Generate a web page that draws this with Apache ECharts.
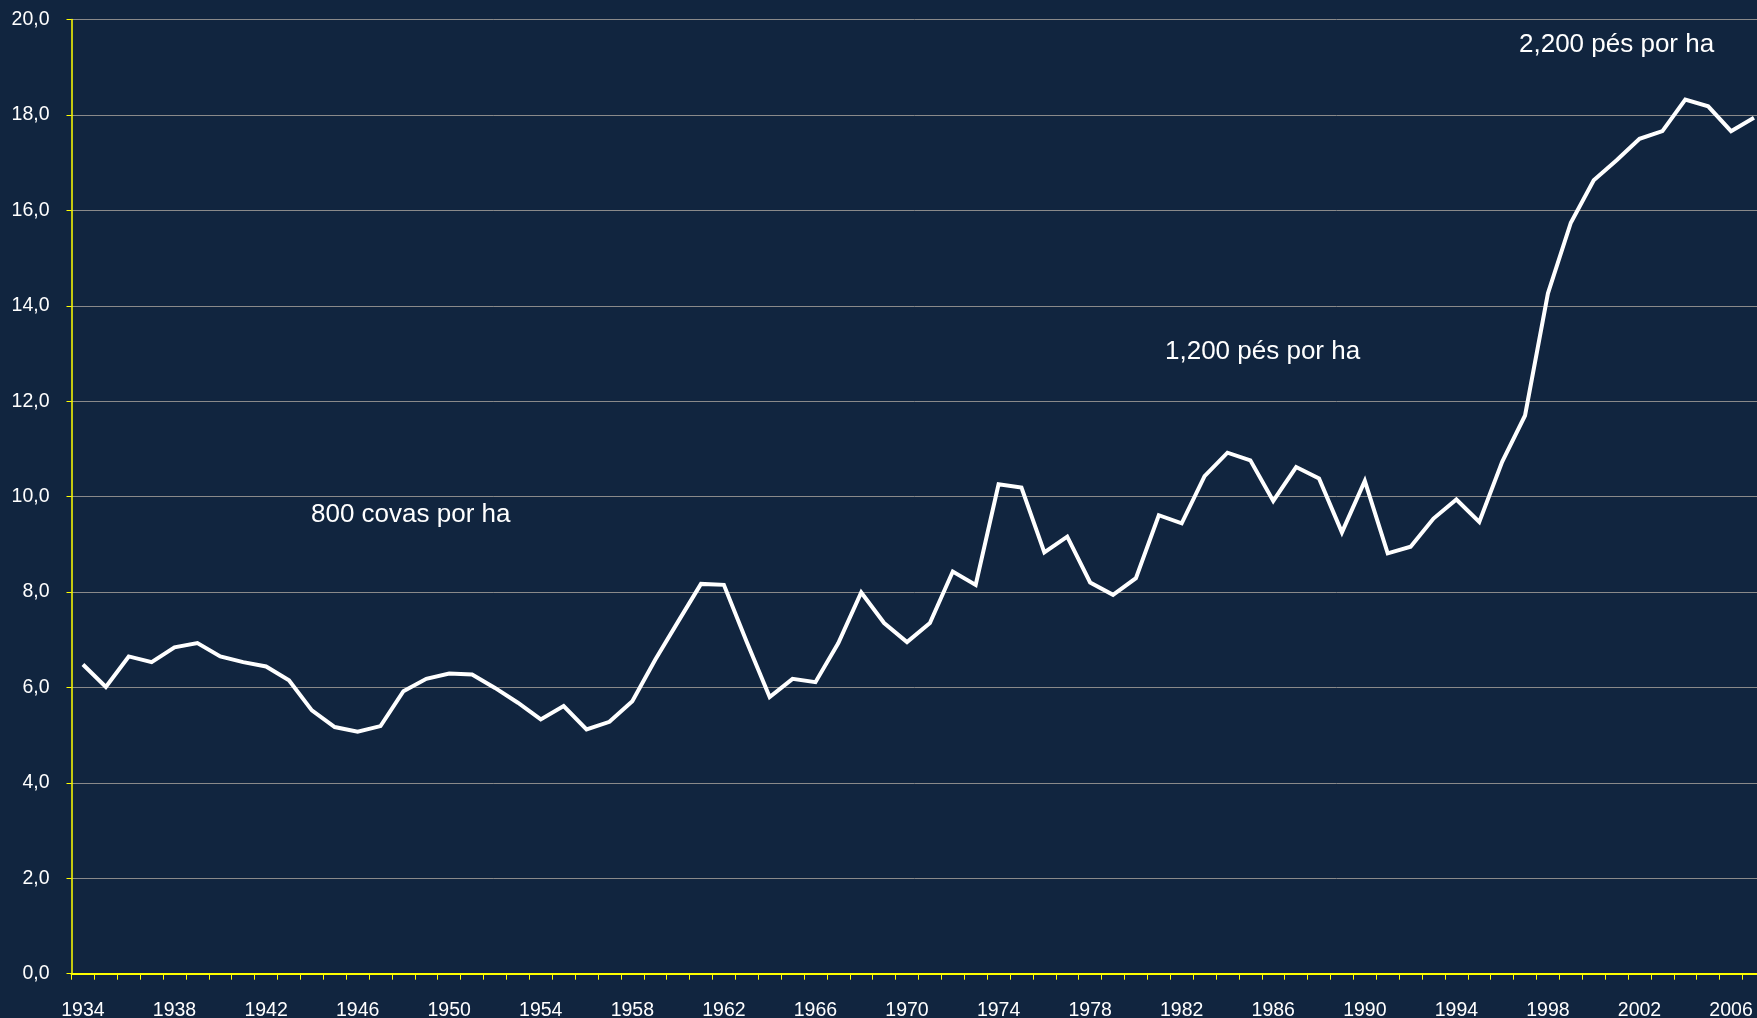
<!DOCTYPE html>
<html>
<head>
<meta charset="utf-8">
<script src="https://cdn.jsdelivr.net/npm/echarts@6/dist/echarts.min.js"></script>
<style>
  html, body { margin: 0; padding: 0; background: #11253f; }
  #chart { width: 1757px; height: 1018px; }
</style>
</head>
<body>
<div id="chart"></div>
<script>
// anos 1934 .. 2007
const years = []
for (let y = 1934; y <= 2007; y++) years.push(String(y))

// valores
const values = [
  6.48, 6.01, 6.65, 6.53, 6.84, 6.93, 6.65, 6.53, 6.44, 6.15,
  5.52, 5.17, 5.07, 5.19, 5.92, 6.18, 6.29, 6.27, 5.99, 5.68,
  5.33, 5.61, 5.12, 5.28, 5.71, 6.58, 7.38, 8.17, 8.15, 6.95,
  5.80, 6.18, 6.11, 6.93, 7.99, 7.35, 6.95, 7.35, 8.43, 8.15,
  10.26, 10.19, 8.83, 9.16, 8.20, 7.94, 8.29, 9.61, 9.44, 10.43,
  10.92, 10.76, 9.91, 10.62, 10.38, 9.25, 10.33, 8.81, 8.95, 9.54,
  9.94, 9.47, 10.73, 11.70, 14.26, 15.74, 16.63, 17.05, 17.50, 17.66,
  18.32, 18.18, 17.66, 17.94
]

const notes = ['800 covas por ha', '1,200 pés por ha', '2,200 pés por ha']

const chart = echarts.init(document.getElementById('chart'))

const option = {
  backgroundColor: '#11253f',
  animation: false,
  textStyle: { fontFamily: 'Liberation Sans, Arial, sans-serif' },
  grid: {
    left: 71.5,
    top: 19.5,
    right: -8.4,
    bottom: 44.3,
    outerBoundsMode: 'none'
  },
  xAxis: {
    type: 'category',
    data: years,
    boundaryGap: true,
    axisLine: { lineStyle: { color: '#ffff00', width: 2 } },
    axisTick: { show: true, interval: 0, length: 6, lineStyle: { color: '#ffff00', width: 1 } },
    axisLabel: {
      interval: 3,
      margin: 27,
      color: '#ffffff',
      fontSize: 19.5,
      fontFamily: 'Liberation Sans, Arial, sans-serif'
    },
    splitLine: { show: false }
  },
  yAxis: {
    type: 'value',
    min: 0,
    max: 20,
    interval: 2,
    axisLine: { show: true, lineStyle: { color: '#ffff00', width: 1.5 } },
    axisTick: { show: true, length: 5, lineStyle: { color: '#ffff00', width: 1 } },
    axisLabel: {
      margin: 22,
      color: '#ffffff',
      fontSize: 19.5,
      fontFamily: 'Liberation Sans, Arial, sans-serif',
      formatter: v => v.toFixed(1).replace('.', ',')
    },
    splitLine: { show: true, lineStyle: { color: '#8a8a8a', width: 1 } }
  },
  graphic: [
    { type: 'text', left: 311, top: 502, style: { text: notes[0], fill: '#ffffff', fontSize: 26, fontFamily: 'Liberation Sans, Arial, sans-serif' } },
    { type: 'text', left: 1165, top: 339, style: { text: notes[1], fill: '#ffffff', fontSize: 26, fontFamily: 'Liberation Sans, Arial, sans-serif' } },
    { type: 'text', left: 1519, top: 32, style: { text: notes[2], fill: '#ffffff', fontSize: 26, fontFamily: 'Liberation Sans, Arial, sans-serif' } }
  ],
  series: [
    {
      type: 'line',
      data: values,
      showSymbol: false,
      lineStyle: { color: '#ffffff', width: 4, join: 'miter' }
    }
  ]
}

chart.setOption(option)
</script>
</body>
</html>
